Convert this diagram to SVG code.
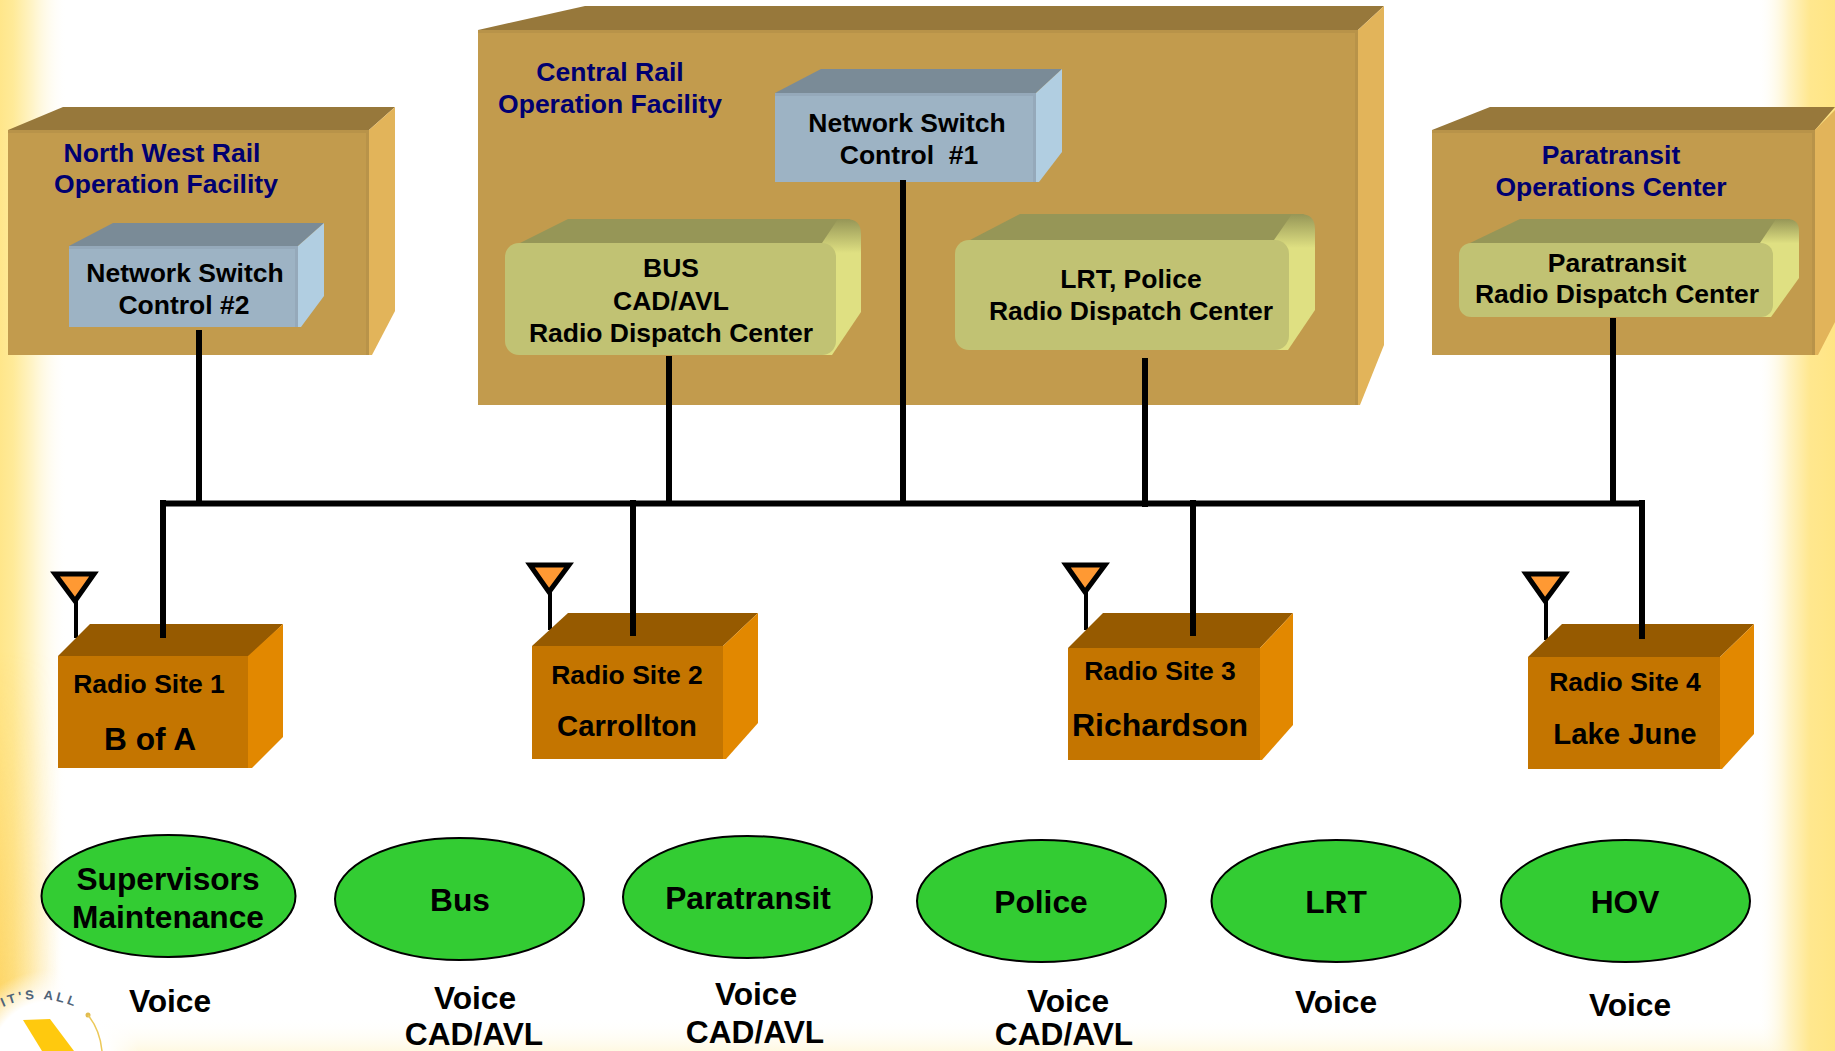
<svg xmlns="http://www.w3.org/2000/svg" width="1835" height="1051" viewBox="0 0 1835 1051">
<style>
text{font-family:"Liberation Sans",Arial,sans-serif;font-weight:700;fill:#000;text-anchor:middle;white-space:pre}
.t{fill:#000070;font-size:26.500px}
.s{font-size:26.500px}
.l{font-size:31.700px}
.bf{fill:#c29b4d}.bt{fill:#97783b}.br{fill:#e2b45a}
.nf{fill:#9db3c4}.nt{fill:#7a8b97}.nr{fill:#b1cee1}
.df{fill:#c1c273}.dt{fill:#969657}.dr{fill:url(#gd)}
.rf{fill:#c47500}.rt{fill:#965a00}.rr{fill:#e28800}
.bev{fill:none;stroke:#000;stroke-opacity:.05;stroke-width:3}
.ant{fill:#ff9933;stroke:#000;stroke-width:5}
.stem{stroke:#000;stroke-width:4;fill:none}
.ell{fill:#33cc33;stroke:#000;stroke-width:2}
.c{stroke:#000;stroke-width:6;fill:none}
</style>
<defs>
<linearGradient id="gl" x1="0" x2="1" y1="0" y2="0"><stop offset="0" stop-color="#ffe68a"/><stop offset="0.2" stop-color="#ffea98"/><stop offset="0.5" stop-color="#fff4c8"/><stop offset="1" stop-color="#fffdf4" stop-opacity="0"/></linearGradient>
<linearGradient id="gr" x1="1" x2="0" y1="0" y2="0"><stop offset="0" stop-color="#ffe584"/><stop offset="0.33" stop-color="#ffe78e"/><stop offset="0.62" stop-color="#fff3c6"/><stop offset="1" stop-color="#fffdf4" stop-opacity="0"/></linearGradient>
<linearGradient id="gb" x1="0" x2="0" y1="0" y2="1"><stop offset="0" stop-color="#fff" stop-opacity="0"/><stop offset="1" stop-color="#fff9e2"/></linearGradient>
<linearGradient id="gd" x1="0" x2="0" y1="0" y2="1"><stop offset="0" stop-color="#969657"/><stop offset="0.25" stop-color="#dfe082"/></linearGradient>
<linearGradient id="go" x1="0" x2="1" y1="0" y2="0"><stop offset="0" stop-color="#fbc240" stop-opacity=".5"/><stop offset="1" stop-color="#fbc240" stop-opacity="0"/></linearGradient>
<linearGradient id="gv" x1="0" x2="0" y1="0" y2="1"><stop offset="0" stop-color="#000"/><stop offset="1" stop-color="#fff"/></linearGradient>
<radialGradient id="glow"><stop offset="0.65" stop-color="#fff"/><stop offset="1" stop-color="#fff" stop-opacity="0"/></radialGradient>
<mask id="mo"><rect x="0" y="650" width="70" height="401" fill="url(#gv)"/></mask>
<path id="arc" d="M 3 1007 Q 38 990 80 1009"/>
</defs>
<g id="background">
<rect width="1835" height="1051" fill="#fff"/>
<rect y="1018" width="1835" height="33" fill="url(#gb)"/>
<rect width="65" height="1051" fill="url(#gl)"/>
<rect x="1760" width="75" height="1051" fill="url(#gr)"/>
<rect x="0" y="650" width="60" height="401" fill="url(#go)" mask="url(#mo)"/>
<circle cx="50" cy="1060" r="90" fill="url(#glow)"/>
</g>
<g id="logo">
<text style="fill:#4f6378;font-size:13px;letter-spacing:3px;text-anchor:start"><textPath href="#arc">IT'S ALL</textPath></text>
<polygon points="23,1020 50,1019 74,1051 42,1051" fill="#ffc90e"/>
<circle cx="88" cy="1015" r="2.500" fill="#e0bb50"/>
<path d="M 88 1015 Q 100 1030 102 1051" fill="none" stroke="#ecc95a" stroke-width="1.500"/>
</g>
<g id="north-west-facility">
<polygon class="bt" points="8,130 63,107 395,107 369,130"/>
<polygon class="br" points="369,130 395,107 395,311 372,355 369,355"/>
<rect class="bf" x="8" y="130" width="361" height="225"/>
<path class="bev" d="M8 131.500 H367.500 V355"/>
<text class="t" x="162" y="162">North West Rail</text>
<text class="t" x="166" y="193">Operation Facility</text>
</g>
<g id="central-facility">
<polygon class="bt" points="478,30 585,6 1384,6 1358,30"/>
<polygon class="br" points="1358,30 1384,6 1384,345 1360,405 1358,405"/>
<rect class="bf" x="478" y="30" width="880" height="375"/>
<path class="bev" d="M478 31.500 H1356.500 V405"/>
<text class="t" x="610" y="81">Central Rail</text>
<text class="t" x="610" y="113">Operation Facility</text>
</g>
<g id="paratransit-center">
<polygon class="bt" points="1432,130 1490,107 1835,107 1815,130"/>
<polygon class="br" points="1815,130 1835,110 1835,322 1818,355 1815,355"/>
<rect class="bf" x="1432" y="130" width="383" height="225"/>
<path class="bev" d="M1432 131.500 H1813.500 V355"/>
<text class="t" x="1611" y="164">Paratransit</text>
<text class="t" x="1611" y="196">Operations Center</text>
</g>
<g id="switch-2">
<polygon class="nt" points="69,246 113,223 324,223 298,246"/>
<polygon class="nr" points="298,246 324,223 324,296 301,327 298,327"/>
<rect class="nf" x="69" y="246" width="229" height="81"/>
<path class="bev" d="M69 247.500 H296.500 V327"/>
<text class="s" x="185" y="282">Network Switch</text>
<text class="s" x="184" y="314">Control #2</text>
</g>
<g id="switch-1">
<polygon class="nt" points="775,93 821,69 1062,69 1036,93"/>
<polygon class="nr" points="1036,93 1062,69 1062,152 1039,182 1036,182"/>
<rect class="nf" x="775" y="93" width="261" height="89"/>
<path class="bev" d="M775 94.500 H1034.500 V182"/>
<text class="s" x="907" y="132">Network Switch</text>
<text class="s" x="909" y="164">Control  #1</text>
</g>
<g id="bus-dispatch">
<path class="dt" d="M520 243 L568 219 H850 L835 243 Z"/>
<path class="dr" d="M822 243 L838 219 H846 Q861 219 861 234 V312 L832 355 H822 Z"/>
<rect class="df" x="505" y="243" width="331" height="112" rx="14"/>
<text class="s" x="671" y="277">BUS</text>
<text class="s" x="671" y="310">CAD/AVL</text>
<text class="s" x="671" y="342">Radio Dispatch Center</text>
</g>
<g id="lrt-dispatch">
<path class="dt" d="M970 240 L1020 214 H1304 L1288 240 Z"/>
<path class="dr" d="M1274 240 L1292 214 H1300 Q1315 214 1315 229 V310 L1288 350 H1274 Z"/>
<rect class="df" x="955" y="240" width="334" height="110" rx="14"/>
<text class="s" x="1131" y="288">LRT, Police</text>
<text class="s" x="1131" y="320">Radio Dispatch Center</text>
</g>
<g id="paratransit-dispatch">
<path class="dt" d="M1470 243 L1520 219 H1790 L1772 243 Z"/>
<path class="dr" d="M1760 243 L1776 219 H1787 Q1799 219 1799 231 V278 L1771 317 H1760 Z"/>
<rect class="df" x="1459" y="243" width="314" height="74" rx="12"/>
<text class="s" x="1617" y="272">Paratransit</text>
<text class="s" x="1617" y="303">Radio Dispatch Center</text>
</g>
<g id="connectors">
<path class="c" d="M160 503.500 H1645"/>
<path class="c" d="M199 330 V503 M669 356 V503 M903 180 V503 M1145 358 V507 M1613 318 V503"/>
</g>
<g id="site-1">
<path class="stem" d="M76 601 V638"/>
<polygon class="rt" points="58,656 90,624 283,624 250,656"/>
<polygon class="rr" points="248,656 283,624 283,737 252,768 248,768"/>
<rect class="rf" x="58" y="656" width="190" height="112"/>
<polygon class="ant" points="55,574 94,574 75,601"/>
<text class="s" x="149" y="693">Radio Site 1</text>
<text x="150" y="750" style="font-size:31.700px">B of A</text>
</g>
<g id="site-2">
<path class="stem" d="M550 592 V630"/>
<polygon class="rt" points="532,646 568,613 758,613 723,646"/>
<polygon class="rr" points="723,646 758,613 758,723 726,759 723,759"/>
<rect class="rf" x="532" y="646" width="191" height="113"/>
<polygon class="ant" points="530,565 569,565 549,592"/>
<text class="s" x="627" y="684">Radio Site 2</text>
<text x="627" y="736" style="font-size:29.300px">Carrollton</text>
</g>
<g id="site-3">
<path class="stem" d="M1086 592 V630"/>
<polygon class="rt" points="1068,648 1103,613 1293,613 1260,648"/>
<polygon class="rr" points="1260,648 1293,613 1293,725 1262,760 1260,760"/>
<rect class="rf" x="1068" y="648" width="192" height="112"/>
<polygon class="ant" points="1066,565 1105,565 1085,592"/>
<text class="s" x="1160" y="680">Radio Site 3</text>
<text x="1160" y="736" style="font-size:32px">Richardson</text>
</g>
<g id="site-4">
<path class="stem" d="M1546 601 V640"/>
<polygon class="rt" points="1528,657 1562,624 1754,624 1720,657"/>
<polygon class="rr" points="1720,657 1754,624 1754,734 1722,769 1720,769"/>
<rect class="rf" x="1528" y="657" width="192" height="112"/>
<polygon class="ant" points="1526,574 1565,574 1545,601"/>
<text class="s" x="1625" y="691">Radio Site 4</text>
<text x="1625" y="744" style="font-size:29.300px">Lake June</text>
</g>
<g id="connectors-down">
<path class="c" d="M163 500 V638 M633 500 V636 M1193 500 V636 M1642 500 V639"/>
</g>
<g id="user-supervisors"><ellipse class="ell" cx="168.500" cy="896" rx="127" ry="61"/>
<text class="l" x="168" y="890">Supervisors</text><text class="l" x="168" y="928">Maintenance</text><text class="l" x="170" y="1012">Voice</text></g>
<g id="user-bus"><ellipse class="ell" cx="459.500" cy="899" rx="124.500" ry="61"/>
<text class="l" x="460" y="911">Bus</text><text class="l" x="475" y="1009">Voice</text><text class="l" x="474" y="1045">CAD/AVL</text></g>
<g id="user-paratransit"><ellipse class="ell" cx="747.500" cy="897" rx="124.500" ry="61"/>
<text class="l" x="748" y="909">Paratransit</text><text class="l" x="756" y="1005">Voice</text><text class="l" x="755" y="1043">CAD/AVL</text></g>
<g id="user-police"><ellipse class="ell" cx="1041.500" cy="901" rx="124.500" ry="61"/>
<text class="l" x="1041" y="913">Police</text><text class="l" x="1068" y="1012">Voice</text><text class="l" x="1064" y="1045">CAD/AVL</text></g>
<g id="user-lrt"><ellipse class="ell" cx="1336" cy="901" rx="124.500" ry="61"/>
<text class="l" x="1336" y="913">LRT</text><text class="l" x="1336" y="1013">Voice</text></g>
<g id="user-hov"><ellipse class="ell" cx="1625.500" cy="901" rx="124.500" ry="61"/>
<text class="l" x="1625" y="913">HOV</text><text class="l" x="1630" y="1016">Voice</text></g>
</svg>
